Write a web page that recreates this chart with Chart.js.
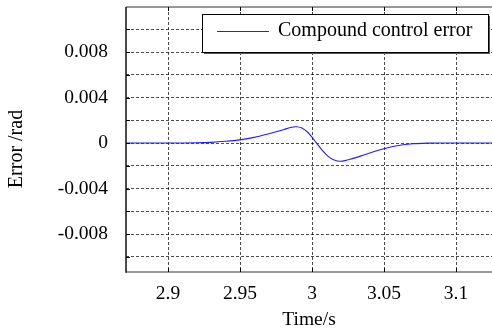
<!DOCTYPE html>
<html>
<head>
<meta charset="utf-8">
<script src="https://cdn.jsdelivr.net/npm/chart.js@4/dist/chart.umd.min.js"></script>
<style>
    html, body { margin: 0; padding: 0; background: #fff; overflow: hidden; }
    canvas { display: block; }
</style>
</head>
<body>
<canvas id="errorChart" width="492" height="332"></canvas>
<script>
// Time samples (s) and compound control error (rad)
const timeValues = [2.86, 2.90, 2.92, 2.93, 2.94, 2.95, 2.96, 2.97, 2.98, 2.985, 2.989, 2.993, 2.997, 3.0,
    3.003, 3.007, 3.011, 3.015, 3.019, 3.023, 3.028, 3.034, 3.04, 3.05, 3.06, 3.07, 3.08, 3.09, 3.13];
const errorValues = [0, 0, 0.00002, 0.00006, 0.00015, 0.00028, 0.00050, 0.00082, 0.00117, 0.00136, 0.00143,
    0.00132, 0.00095, 0.00052, 0.00002, -0.00062, -0.00115, -0.00148, -0.00160, -0.00155, -0.00137,
    -0.00113, -0.00088, -0.00050, -0.00022, -0.00007, -0.00001, 0, 0];
const seriesLabel = 'Compound control error';

// Axis ranges and tick steps
const xRange = [2.8708, 3.125];
const xStep = 0.05;
const yRange = [-0.01134, 0.01196];
const yStep = 0.002;
const yLabelled = [-0.008, -0.004, 0, 0.004, 0.008];

const serif = 'Liberation Serif, Times New Roman, serif';
const gridDash = [3, 2];
const gridColor = 'rgba(0,0,0,0.7)';

// Frame lines, inner tick marks, y title and boxed legend
const framePlugin = {
    id: 'frame',
    afterDraw(chart) {
        const ctx = chart.ctx;
        const area = chart.chartArea;
        const xs = chart.scales.x;
        const ys = chart.scales.y;
        ctx.save();
        ctx.setLineDash([]);

        ctx.lineWidth = 1.5;
        ctx.strokeStyle = '#777';
        ctx.beginPath();
        ctx.moveTo(area.left, area.top);
        ctx.lineTo(area.right, area.top);
        ctx.moveTo(area.left, area.bottom);
        ctx.lineTo(area.right, area.bottom);
        ctx.stroke();
        ctx.strokeStyle = '#111';
        ctx.beginPath();
        ctx.moveTo(area.left, area.top);
        ctx.lineTo(area.left, area.bottom + 0.75);
        ctx.stroke();

        ctx.strokeStyle = '#000';
        ctx.lineWidth = 1;
        ctx.beginPath();
        xs.ticks.forEach(t => {
            const px = Math.round(xs.getPixelForValue(t.value)) + 0.5;
            ctx.moveTo(px, area.bottom);
            ctx.lineTo(px, area.bottom - 4);
            ctx.moveTo(px, area.top);
            ctx.lineTo(px, area.top + 4);
        });
        ys.ticks.forEach(t => {
            const py = Math.round(ys.getPixelForValue(t.value)) + 0.5;
            ctx.moveTo(area.left, py);
            ctx.lineTo(area.left + 4, py);
        });
        ctx.stroke();

        // y axis title
        ctx.fillStyle = '#000';
        ctx.font = '20px ' + serif;
        ctx.textAlign = 'center';
        ctx.textBaseline = 'middle';
        ctx.translate(17, 149);
        ctx.rotate(-Math.PI / 2);
        ctx.fillText('Error /rad', 0, 0);
        ctx.setTransform(1, 0, 0, 1, 0, 0);

        // legend box with shadow
        const bx = 202, by = 14, bw = 286, bh = 38;
        ctx.fillStyle = '#555';
        ctx.fillRect(bx + 2, by + 2, bw, bh);
        ctx.fillStyle = '#fff';
        ctx.fillRect(bx, by, bw, bh);
        ctx.strokeStyle = '#000';
        ctx.lineWidth = 1;
        ctx.strokeRect(bx + 0.5, by + 0.5, bw, bh);

        const ds = chart.data.datasets[0];
        ctx.strokeStyle = ds.borderColor;
        ctx.beginPath();
        ctx.moveTo(217, 31.5);
        ctx.lineTo(269, 31.5);
        ctx.stroke();

        ctx.fillStyle = '#000';
        ctx.font = '20px ' + serif;
        ctx.textAlign = 'left';
        ctx.textBaseline = 'middle';
        ctx.fillText(ds.label, 278, 31);
        ctx.restore();
    }
};

const ctx = document.getElementById('errorChart');
new Chart(ctx, {
    type: 'line',
    data: {
        datasets: [{
            label: seriesLabel,
            data: timeValues.map((t, i) => ({ x: t, y: errorValues[i] })),
            borderColor: 'rgb(30,30,255)',
            borderWidth: 1.1,
            pointRadius: 0,
            tension: 0.3,
            fill: false
        }]
    },
    options: {
        responsive: false,
        animation: false,
        devicePixelRatio: 1,
        layout: { padding: { top: 7, right: 0, left: 0, bottom: 0 } },
        plugins: {
            legend: { display: false },
            tooltip: { enabled: false }
        },
        scales: {
            x: {
                type: 'linear',
                min: xRange[0],
                max: xRange[1],
                afterFit: scale => {
                    scale.height = 60;
                    scale.paddingLeft = 0;
                    scale.paddingRight = 0;
                },
                border: { display: false, dash: gridDash },
                grid: {
                    color: gridColor,
                    drawTicks: false
                },
                ticks: {
                    stepSize: xStep,
                    includeBounds: false,
                    autoSkip: false,
                    maxTicksLimit: 20,
                    padding: 10,
                    color: '#000',
                    font: { family: serif, size: 19.5 },
                    maxRotation: 0,
                    callback: v => String(parseFloat(v.toFixed(3)))
                },
                title: {
                    display: true,
                    text: 'Time/s',
                    color: '#000',
                    font: { family: serif, size: 19.5 },
                    padding: { top: 0, bottom: 0 }
                }
            },
            y: {
                type: 'linear',
                min: yRange[0],
                max: yRange[1],
                afterFit: scale => {
                    scale.width = 126;
                    scale.paddingTop = 0;
                    scale.paddingBottom = 0;
                },
                border: { display: false, dash: gridDash },
                grid: {
                    color: gridColor,
                    drawTicks: false
                },
                ticks: {
                    stepSize: yStep,
                    includeBounds: false,
                    autoSkip: false,
                    maxTicksLimit: 30,
                    padding: 18,
                    color: '#000',
                    font: { family: serif, size: 19.5 },
                    callback: v => {
                        const r = Math.round(v * 1000) / 1000;
                        return yLabelled.some(l => Math.abs(l - v) < 1e-7) ? String(r) : '';
                    }
                }
            }
        }
    },
    plugins: [framePlugin]
});
</script>
</body>
</html>
